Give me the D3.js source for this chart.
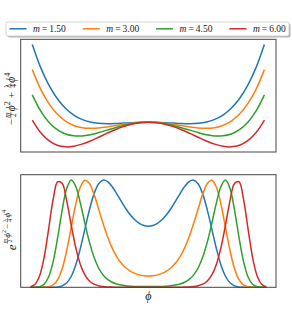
<!DOCTYPE html>
<html>
<head>
<meta charset="utf-8">
<script src="https://cdn.jsdelivr.net/npm/d3@7"></script>
<style>
  body { margin: 0; background: #fff; }
  svg { display: block; }
  text { font-family: "Liberation Serif", "DejaVu Serif", serif; fill: #222; }
</style>
</head>
<body>
<svg id="chart" width="292" height="329"></svg>
<script>
// series parameters
const mLabels = ['1.50', '3.00', '4.50', '6.00'];
const colors = ['#1f77b4', '#ff7f0e', '#2ca02c', '#d62728'];

// top panel: phi grid and potential values
const phiTop = [-3.5, -3.25, -3, -2.75, -2.5, -2.25, -2, -1.75, -1.5, -1.25, -1, -0.75, -0.5, -0.25, 0,
  0.25, 0.5, 0.75, 1, 1.25, 1.5, 1.75, 2, 2.25, 2.5, 2.75, 3, 3.25, 3.5];
const potM15 = [28.328, 19.97, 13.5, 8.626, 5.078, 2.61, 1, 0.048, -0.422, -0.562, -0.5, -0.343, -0.172, -0.046, 0,
  -0.046, -0.172, -0.343, -0.5, -0.562, -0.422, 0.048, 1, 2.61, 5.078, 8.626, 13.5, 19.97, 28.328];
const potM30 = [19.141, 12.048, 6.75, 2.954, 0.391, -1.187, -2, -2.249, -2.109, -1.733, -1.25, -0.765, -0.359, -0.093, 0,
  -0.093, -0.359, -0.765, -1.25, -1.733, -2.109, -2.249, -2, -1.187, 0.391, 2.954, 6.75, 12.048, 19.141];
const potM45 = [9.953, 4.126, 0, -2.718, -4.297, -4.983, -5, -4.546, -3.797, -2.905, -2, -1.187, -0.547, -0.14, 0,
  -0.14, -0.547, -1.187, -2, -2.905, -3.797, -4.546, -5, -4.983, -4.297, -2.718, 0, 4.126, 9.953];
const potM60 = [0.766, -3.796, -6.75, -8.39, -8.984, -8.78, -8, -6.843, -5.484, -4.077, -2.75, -1.608, -0.734, -0.187, 0,
  -0.187, -0.734, -1.608, -2.75, -4.077, -5.484, -6.843, -8, -8.78, -8.984, -8.39, -6.75, -3.796, 0.766];

// bottom panel: phi grid and weights
const phiBot = [-3.25, -3.125, -3, -2.875, -2.75, -2.625, -2.5, -2.375, -2.25, -2.125, -2, -1.875, -1.75, -1.625,
  -1.5, -1.375, -1.25, -1.125, -1, -0.875, -0.75, -0.625, -0.5, -0.375, -0.25, -0.125, 0,
  0.125, 0.25, 0.375, 0.5, 0.625, 0.75, 0.875, 1, 1.125, 1.25, 1.375, 1.5, 1.625, 1.75, 1.875, 2,
  2.125, 2.25, 2.375, 2.5, 2.625, 2.75, 2.875, 3, 3.125, 3.25];
const wM15 = [0, 0, 0, 0, 0.0001, 0.0007, 0.0036, 0.0138, 0.0419, 0.1030, 0.2096, 0.3622, 0.5432, 0.7223,
  0.8688, 0.9626, 0.9990, 0.9864, 0.9394, 0.8739, 0.8028, 0.7351, 0.6767, 0.6300, 0.5966, 0.5764, 0.5698,
  0.5764, 0.5966, 0.6300, 0.6767, 0.7351, 0.8028, 0.8739, 0.9394, 0.9864, 0.9990, 0.9626, 0.8688, 0.7223, 0.5432, 0.3622, 0.2096,
  0.1030, 0.0419, 0.0138, 0.0036, 0.0007, 0.0001, 0, 0, 0, 0];
const wM30 = [0, 0, 0.0001, 0.0010, 0.0055, 0.0227, 0.0713, 0.1749, 0.3453, 0.5631, 0.7788, 0.9357, 0.9990, 0.9682,
  0.8688, 0.7351, 0.5966, 0.4714, 0.3679, 0.2870, 0.2264, 0.1823, 0.1510, 0.1295, 0.1157, 0.1079, 0.1054,
  0.1079, 0.1157, 0.1295, 0.1510, 0.1823, 0.2264, 0.2870, 0.3679, 0.4714, 0.5966, 0.7351, 0.8688, 0.9682, 0.9990, 0.9357, 0.7788,
  0.5631, 0.3453, 0.1749, 0.0713, 0.0227, 0.0055, 0.0010, 0.0001, 0, 0];
const wM45 = [0.0001, 0.0010, 0.0063, 0.0289, 0.0959, 0.2396, 0.4650, 0.7223, 0.9239, 0.9999, 0.9394, 0.7849, 0.5966, 0.4213,
  0.2821, 0.1823, 0.1157, 0.0731, 0.0468, 0.0306, 0.0207, 0.0147, 0.0109, 0.0086, 0.0073, 0.0066, 0.0063,
  0.0066, 0.0073, 0.0086, 0.0109, 0.0147, 0.0207, 0.0306, 0.0468, 0.0731, 0.1157, 0.1823, 0.2821, 0.4213, 0.5966, 0.7849, 0.9394,
  0.9999, 0.9239, 0.7223, 0.4650, 0.2396, 0.0959, 0.0289, 0.0063, 0.0010, 0.0001];
const wM60 = [0.0055, 0.0289, 0.1054, 0.2771, 0.5432, 0.8201, 0.9845, 0.9682, 0.8028, 0.5764, 0.3679, 0.2137, 0.1157, 0.0595,
  0.0297, 0.0147, 0.0073, 0.0037, 0.0019, 0.0011, 0.0006, 0.0004, 0.0003, 0.0002, 0.0001, 0.0001, 0.0001,
  0.0001, 0.0001, 0.0002, 0.0003, 0.0004, 0.0006, 0.0011, 0.0019, 0.0037, 0.0073, 0.0147, 0.0297, 0.0595, 0.1157, 0.2137, 0.3679,
  0.5764, 0.8028, 0.9682, 0.9845, 0.8201, 0.5432, 0.2771, 0.1054, 0.0289, 0.0055];

const potSeries = [potM15, potM30, potM45, potM60];
const wSeries = [wM15, wM30, wM45, wM60];

const svg = d3.select('#chart');
const left = 20.7, right = 276;

// scales
const xTop = d3.scaleLinear().domain([-3.85, 3.85]).range([left, right]);
const yTop = d3.scaleLinear().domain([-10.866, 30.195]).range([152, 39.3]);
const xBot = d3.scaleLinear().domain([-3.52, 3.52]).range([left, right]);
const yBot = d3.scaleLinear().domain([0, 1.05]).range([287.3, 174.7]);

// top curves
potSeries.forEach((vals, i) => {
  const line = d3.line().x((d, j) => xTop(phiTop[j])).y(d => yTop(d)).curve(d3.curveCatmullRom);
  svg.append('path')
    .datum(vals)
    .attr('fill', 'none')
    .attr('stroke', colors[i])
    .attr('stroke-width', 1.5)
    .attr('d', line);
});

// bottom curves
wSeries.forEach((vals, i) => {
  const line = d3.line().x((d, j) => xBot(phiBot[j])).y(d => yBot(d)).curve(d3.curveCatmullRom);
  svg.append('path')
    .datum(vals)
    .attr('fill', 'none')
    .attr('stroke', colors[i])
    .attr('stroke-width', 1.5)
    .attr('d', line);
});

// frames on top
[yTop, yBot].forEach(ys => {
  const r = ys.range();
  svg.append('rect')
    .attr('x', left).attr('y', r[1])
    .attr('width', right - left).attr('height', r[0] - r[1])
    .attr('fill', 'none').attr('stroke', '#444').attr('stroke-width', 1);
});

// little layout helper for stacked-fraction labels
function mathLabel(g, items) {
  const inner = g.append('g');
  let x = 0;
  items.forEach(it => {
    if (it.frac) {
      const n = inner.append('text').attr('font-size', it.size).attr('font-style', it.nItalic ? 'italic' : null)
        .attr('text-anchor', 'middle').text(it.frac[0]);
      const dn = inner.append('text').attr('font-size', it.size)
        .attr('text-anchor', 'middle').text(it.frac[1]);
      const w = Math.max(n.node().getComputedTextLength(), dn.node().getComputedTextLength()) + 1;
      const cx = x + w / 2 + 0.7;
      n.attr('x', cx).attr('y', it.bar - 1);
      dn.attr('x', cx).attr('y', it.bar + it.size * 0.72);
      inner.append('line').attr('x1', x + 0.7).attr('x2', x + w + 0.7)
        .attr('y1', it.bar).attr('y2', it.bar).attr('stroke', '#222').attr('stroke-width', 0.5);
      x += w + 1.4;
    } else {
      const t = inner.append('text').attr('x', x + (it.gap || 0)).attr('y', it.dy || 0)
        .attr('font-size', it.size).attr('font-style', it.italic ? 'italic' : null).text(it.t);
      x += t.node().getComputedTextLength() + 2 * (it.gap || 0);
    }
  });
  inner.attr('transform', `translate(${-x / 2},0)`);
}

// y label, top panel
mathLabel(svg.append('g').attr('transform', 'translate(14.5,99) rotate(-90)'), [
  { t: '\u2212', size: 11 },
  { frac: ['m', '2'], size: 7.5, bar: -3.7, nItalic: true },
  { t: '\u03d5', size: 11.5, italic: true },
  { t: '2', size: 8, dy: -5 },
  { t: '+', size: 11, gap: 3 },
  { frac: ['\u03bb', '4'], size: 7.5, bar: -3.7 },
  { t: '\u03d5', size: 11.5, italic: true },
  { t: '4', size: 8, dy: -5 }
]);

// y label, bottom panel
mathLabel(svg.append('g').attr('transform', 'translate(15.5,230) rotate(-90)'), [
  { t: 'e', size: 13, italic: true },
  { frac: ['m', '2'], size: 6, bar: -8, nItalic: true },
  { t: '\u03d5', size: 9, italic: true, dy: -5.5 },
  { t: '2', size: 6, dy: -9.5 },
  { t: '\u2212', size: 9, dy: -5.5, gap: 1 },
  { frac: ['\u03bb', '4'], size: 6, bar: -8 },
  { t: '\u03d5', size: 9, italic: true, dy: -5.5 },
  { t: '4', size: 6, dy: -9.5 }
]);

// x label
svg.append('text')
  .attr('x', xBot(0)).attr('y', 300)
  .attr('text-anchor', 'middle')
  .attr('font-size', 12).attr('font-style', 'italic')
  .text('\u03d5');

// legend
const lg = svg.append('g');
lg.append('rect').attr('x', 7.5).attr('y', 23.5).attr('width', 283).attr('height', 14)
  .attr('rx', 2).attr('fill', '#000').attr('opacity', 0.3);
lg.append('rect').attr('x', 6).attr('y', 22).attr('width', 283).attr('height', 14)
  .attr('rx', 2).attr('fill', '#fff').attr('stroke', '#ccc').attr('stroke-width', 0.8);
mLabels.forEach((lab, i) => {
  const x0 = 9.5 + i * 73.3;
  lg.append('line').attr('x1', x0).attr('x2', x0 + 17).attr('y1', 28.8).attr('y2', 28.8)
    .attr('stroke', colors[i]).attr('stroke-width', 1.5);
  const t = lg.append('text').attr('x', x0 + 23.5).attr('y', 32).attr('font-size', 9.5);
  t.append('tspan').attr('font-style', 'italic').text('m');
  t.append('tspan').attr('dx', 2).text('=');
  t.append('tspan').attr('dx', 2).text(lab);
});
</script>
</body>
</html>
